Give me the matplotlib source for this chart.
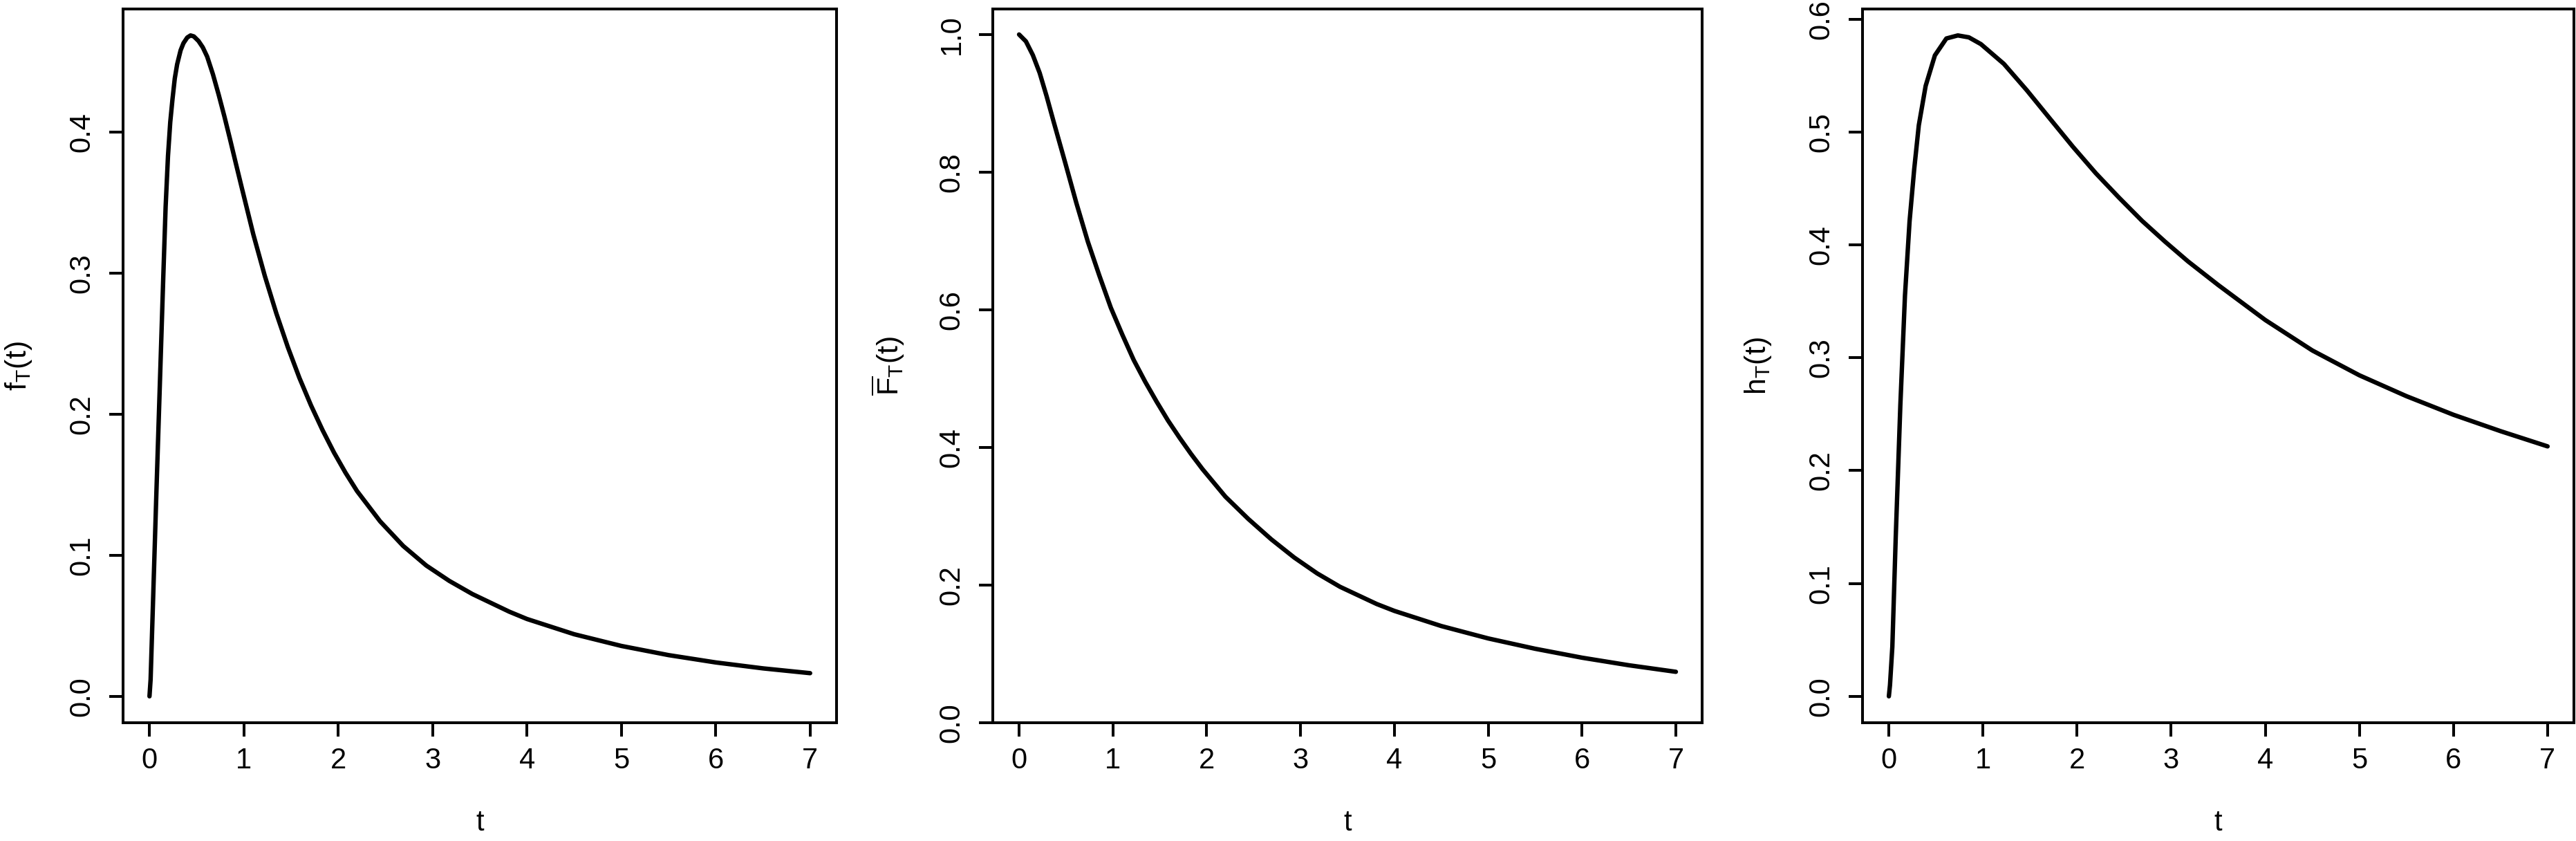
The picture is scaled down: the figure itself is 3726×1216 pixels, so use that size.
import matplotlib
matplotlib.use("Agg")
import matplotlib.pyplot as plt

plt.rcParams["font.family"] = "Liberation Sans"
plt.rcParams["mathtext.fontset"] = "custom"
plt.rcParams["mathtext.rm"] = "Liberation Sans"
plt.rcParams["mathtext.it"] = "Liberation Sans"

# density f_T(t)
t_f = [0.0, 0.012, 0.037, 0.073, 0.11, 0.147, 0.171, 0.196, 0.22, 0.244, 0.268, 0.293,
       0.33, 0.36, 0.40, 0.435, 0.47, 0.52, 0.565, 0.611, 0.672, 0.733, 0.794, 0.855,
       0.916, 0.978, 1.10, 1.222, 1.344, 1.466, 1.588, 1.711, 1.833, 1.955, 2.077,
       2.199, 2.444, 2.688, 2.933, 3.177, 3.421, 3.812, 4.0, 4.5, 5.0, 5.5, 6.0,
       6.5, 7.0]
f_vals = [0.0, 0.012, 0.066, 0.144, 0.2215, 0.299, 0.347, 0.383, 0.407, 0.4235, 0.438, 0.448,
          0.458, 0.463, 0.467, 0.4685, 0.4678, 0.4645, 0.4600, 0.4535, 0.4410, 0.4265, 0.4110, 0.3945,
          0.3775, 0.3605, 0.3275, 0.298, 0.2715, 0.2475, 0.2258, 0.2063, 0.1888, 0.1728, 0.1585,
          0.1455, 0.124, 0.1066, 0.0927, 0.0818, 0.0725, 0.0600, 0.0548, 0.0440, 0.0357, 0.0292, 0.0240,
          0.0198, 0.0164]

# survival function, middle panel
t_s = [0.0, 0.073, 0.147, 0.22, 0.293, 0.367, 0.489, 0.611, 0.733, 0.855, 0.978,
       1.1, 1.222, 1.344, 1.466, 1.588, 1.711, 1.833, 1.955, 2.199, 2.444, 2.688,
       2.933, 3.177, 3.421, 3.812, 4.0, 4.5, 5.0, 5.5, 6.0, 6.5, 7.0]
s_vals = [1.0, 0.990, 0.970, 0.944, 0.9106, 0.874, 0.815, 0.755, 0.699, 0.650, 0.603,
          0.564, 0.527, 0.4955, 0.4665, 0.4390, 0.414, 0.3905, 0.3685, 0.3285, 0.296, 0.2665,
          0.240, 0.217, 0.1975, 0.1725, 0.1625, 0.1405, 0.1225, 0.1075, 0.0945, 0.0835, 0.074]

# hazard function, right panel
t_h = [0.0, 0.012, 0.037, 0.073, 0.122, 0.171, 0.22, 0.269, 0.318, 0.391, 0.489,
       0.611, 0.733, 0.85, 0.978, 1.222, 1.467, 1.711, 1.956, 2.2, 2.445, 2.689,
       2.934, 3.178, 3.5, 4.0, 4.5, 5.0, 5.5, 6.0, 6.5, 7.0]
h_vals = [0.0, 0.01, 0.044, 0.141, 0.258, 0.355, 0.421, 0.467, 0.506, 0.541, 0.568,
          0.583, 0.5857, 0.584, 0.578, 0.5605, 0.537, 0.512, 0.487, 0.4635, 0.442, 0.4215,
          0.403, 0.3855, 0.3645, 0.3335, 0.3065, 0.2845, 0.266, 0.2495, 0.235, 0.2215]

x_ticks = [0, 1, 2, 3, 4, 5, 6, 7]
labels = [r"$\mathregular{f_T(t)}$", r"$\mathregular{\overline{F}_T(t)}$", r"$\mathregular{h_T(t)}$"]
y_ticks = [[0.0, 0.1, 0.2, 0.3, 0.4],
           [0.0, 0.2, 0.4, 0.6, 0.8, 1.0],
           [0.0, 0.1, 0.2, 0.3, 0.4, 0.5, 0.6]]

W, H = 3726, 1216
fig = plt.figure(figsize=(W / 100, H / 100), dpi=100)

# left edge and width of each plot box in pixels
boxes = [(178, 1032), (1436, 1026), (2694, 1029)]
box_bottom, box_h = 1045, 1032
series = [(t_f, f_vals), (t_s, s_vals), (t_h, h_vals)]

for (left, width), (tt, yy), lab, yt in zip(boxes, series, labels, y_ticks):
    ax = fig.add_axes([left / W, (H - box_bottom) / H, width / W, box_h / H])
    ax.plot(tt, yy, color="black", lw=4.6, solid_capstyle="round", solid_joinstyle="round")

    lo, hi = min(yy), max(yy)
    ax.set_ylim(lo - 0.04 * (hi - lo), hi + 0.04 * (hi - lo))
    ax.set_xlim(-0.28, 7.28)

    ax.set_xticks(x_ticks)
    ax.set_xticklabels([str(v) for v in x_ticks])
    ax.set_yticks(yt)
    ax.set_yticklabels(["%.1f" % v for v in yt], rotation=90, va="center")

    ax.tick_params(axis="both", direction="out", length=14.4, width=2.9, labelsize=30, color="black")
    ax.tick_params(axis="x", pad=11)
    ax.tick_params(axis="y", pad=14)
    for sp in ax.spines.values():
        sp.set_linewidth(2.9)

    ax.set_xlabel("t", fontsize=30, va="center")
    ax.xaxis.set_label_coords(0.5, -(1190 - box_bottom) / box_h)
    ax.set_ylabel(lab, fontsize=31, va="center")
    ax.yaxis.set_label_coords(-151 / width, 0.5)

fig.savefig("out.png", dpi=100, facecolor="white")
